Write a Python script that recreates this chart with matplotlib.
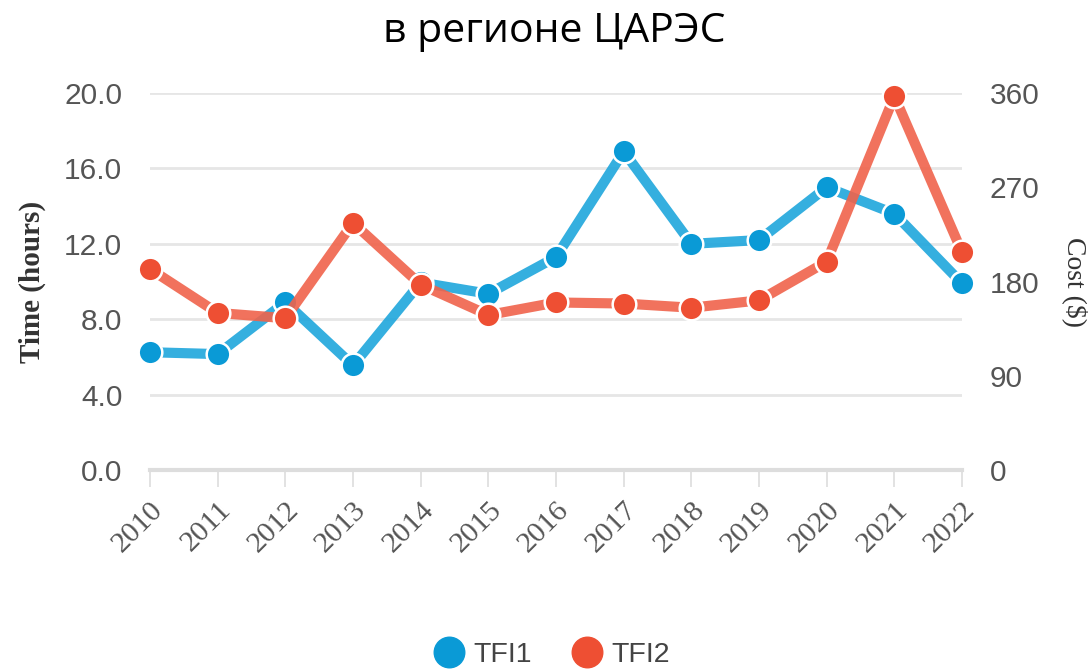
import matplotlib
matplotlib.use("Agg")
import matplotlib.pyplot as plt
from matplotlib.lines import Line2D

years = [2010, 2011, 2012, 2013, 2014, 2015, 2016, 2017, 2018, 2019, 2020, 2021, 2022]
tfi1_hours = [6.25, 6.15, 8.9, 5.55, 9.95, 9.35, 11.3, 16.9, 12.0, 12.2, 15.0, 13.6, 9.9]
tfi2_cost = [192, 150, 145, 236, 177, 148, 160, 159, 155, 162, 199, 357, 208]

left_ticks = [0, 4, 8, 12, 16, 20]
right_ticks = [0, 90, 180, 270, 360]

title = "в регионе ЦАРЭС"
blue_dot, blue_line = "#0a9ad6", "#1fa6dc"
red_dot, red_line = "#ee4f33", "#f0634b"
grid_col = "#e6e6e6"
tick_col = "#555555"

fig = plt.figure(figsize=(10.92, 6.7), dpi=100)
ax = fig.add_axes([0.1374, 0.2985, 0.7436, 0.5626])
ax2 = ax.twinx()

ax.set_xlim(2010, 2022)
ax.set_ylim(0, 20)
ax2.set_ylim(0, 360)

ax.plot(years, tfi1_hours, color=blue_line, lw=7.3, alpha=0.9, solid_capstyle="butt", zorder=3, clip_on=False)
ax.plot(years, tfi1_hours, ls="none", marker="o", ms=17, mfc=blue_dot, mec="white", mew=1.8, zorder=4, clip_on=False)
ax2.plot(years, tfi2_cost, color=red_line, lw=7.3, alpha=0.9, solid_capstyle="butt", zorder=3, clip_on=False)
ax2.plot(years, tfi2_cost, ls="none", marker="o", ms=17, mfc=red_dot, mec="white", mew=1.8, zorder=4, clip_on=False)

ax.set_yticks(left_ticks)
ax.set_yticklabels([f"{v:.1f}" for v in left_ticks])
ax2.set_yticks(right_ticks)
ax2.set_yticklabels([str(v) for v in right_ticks])
ax.yaxis.grid(True, color=grid_col, lw=2)
ax.set_axisbelow(True)

for a in (ax, ax2):
    for s in ("top", "left", "right", "bottom"):
        a.spines[s].set_visible(False)
    a.tick_params(axis="y", length=0, pad=20, labelsize=21.5, labelcolor=tick_col)
    for lbl in a.get_yticklabels():
        lbl.set_family("Liberation Sans")

ax.spines["bottom"].set_visible(True)
ax.spines["bottom"].set_color("#dddddd")
ax.spines["bottom"].set_linewidth(3)

ax.set_xticks(years)
ax.set_xticklabels([str(y) for y in years], rotation=45, ha="right", rotation_mode="anchor",
                   family="Liberation Serif", fontsize=21.5, color=tick_col)
ax.tick_params(axis="x", length=12, width=1.2, color="#dddddd", pad=7)

ax.set_ylabel("Time (hours)", family="Liberation Serif", fontweight="bold", fontsize=21,
              color="#333333", labelpad=13)
ax2.set_ylabel("Cost ($)", family="Liberation Serif", fontsize=20, color="#333333",
               rotation=270, labelpad=35)

fig.text(0.508, 0.953, title, ha="center", va="center", family="Open Sans", fontsize=29.5, color="black")

handles = [Line2D([], [], ls="none", marker="o", ms=22, mfc=blue_dot, mec=blue_dot),
           Line2D([], [], ls="none", marker="o", ms=22, mfc=red_dot, mec=red_dot)]
leg = fig.legend(handles, ["TFI1", "TFI2"], loc="center", bbox_to_anchor=(0.505, 0.023), ncol=2,
                 frameon=False, handletextpad=0.3, columnspacing=1.4, handlelength=1.1,
                 prop={"family": "Liberation Sans", "size": 20.5})
for t in leg.get_texts():
    t.set_color("#444444")

fig.savefig("out.png", dpi=100)
